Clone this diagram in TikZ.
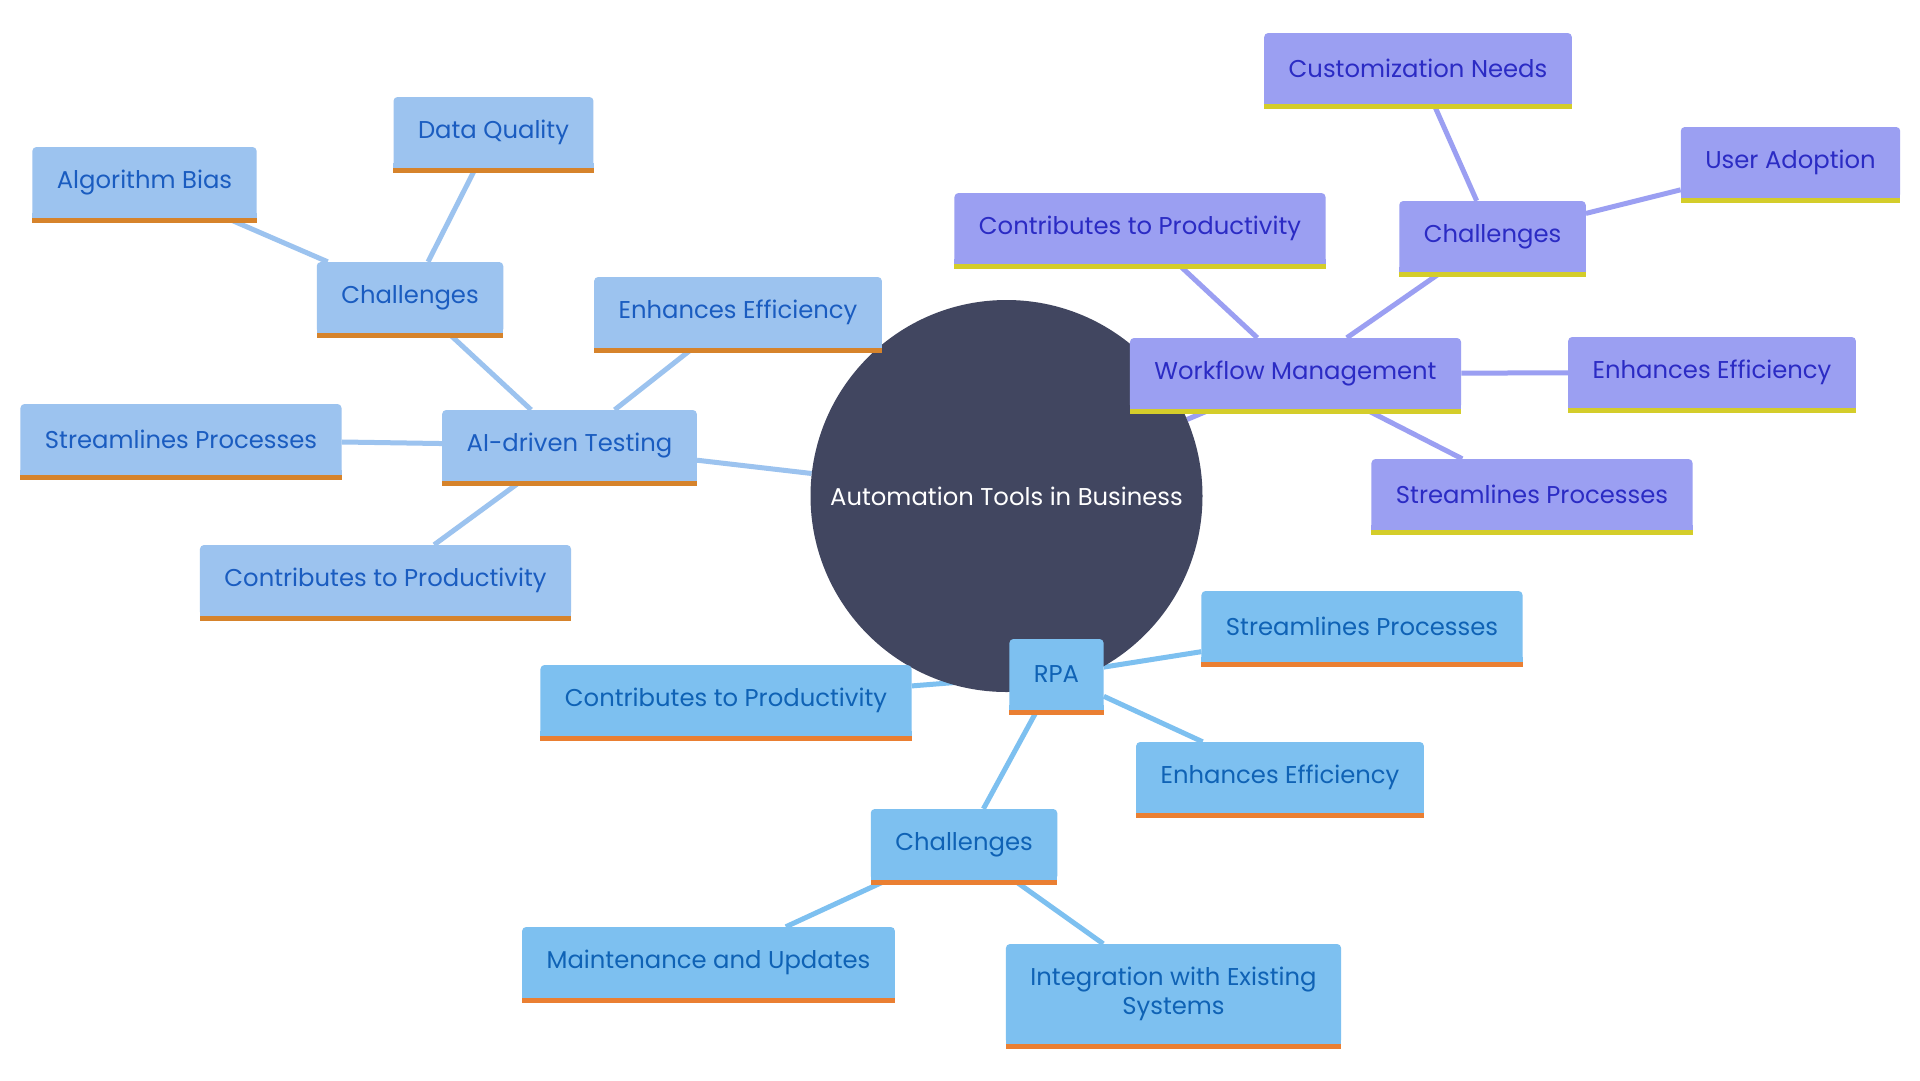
\documentclass[tikz,border=0pt]{standalone}
\usepackage{fontspec}
\setmainfont{Poppins}
\usetikzlibrary{backgrounds,positioning}
\definecolor{rootfill}{HTML}{414660}
\definecolor{aifill}{HTML}{9CC3EF}
\definecolor{aitext}{HTML}{1A5CC0}
\definecolor{aibar}{HTML}{D6832B}
\definecolor{wffill}{HTML}{9B9FF2}
\definecolor{wftext}{HTML}{2B2BC4}
\definecolor{wfbar}{HTML}{D4CD2A}
\definecolor{rpafill}{HTML}{7DC0F0}
\definecolor{rpatext}{HTML}{0F62B5}
\definecolor{rpabar}{HTML}{EA7F32}
\tikzset{box/.style={rectangle,rounded corners=4pt,inner xsep=24.5pt,inner ysep=0pt,
    minimum height=71pt,font=\fontsize{24.3}{29}\selectfont}}
\tikzset{aibox/.style={box,fill=aifill,text=aitext},
    wfbox/.style={box,fill=wffill,text=wftext},
    rpabox/.style={box,fill=rpafill,text=rpatext},
    link/.style={line width=5pt}}

\begin{document}
\begin{tikzpicture}[x=1pt,y=-1pt]
    \useasboundingbox (0,0) rectangle (1920,1080);
    \node[circle,fill=rootfill,text=white,minimum size=392pt,inner sep=0pt,
        font=\fontsize{24.3}{29}\selectfont] (root) at (1006.5,496) {Automation Tools in Business};
    % AI-driven Testing
    \node[aibox] (ai)   at (569.5,445.5) {AI-driven Testing};
    \node[aibox] (aich) at (410,297.5)   {Challenges};
    \node[aibox] (dq)   at (493.5,132.5) {Data Quality};
    \node[aibox] (ab)   at (144.5,182.5) {Algorithm Bias};
    \node[aibox] (aiee) at (738,312.5)   {Enhances Efficiency};
    \node[aibox] (aisp) at (181,439.5)   {Streamlines Processes};
    \node[aibox] (aicp) at (385.5,580.5) {Contributes to Productivity};
    % Workflow Management
    \node[wfbox] (wf)   at (1295.5,373.5) {Workflow Management};
    \node[wfbox] (wfcp) at (1140,228.5)   {Contributes to Productivity};
    \node[wfbox] (wfch) at (1492.5,236.5) {Challenges};
    \node[wfbox] (cn)   at (1418,68.5)    {Customization Needs};
    \node[wfbox] (ua)   at (1790.5,162.5) {User Adoption};
    \node[wfbox] (wfee) at (1712,372.5)   {Enhances Efficiency};
    \node[wfbox] (wfsp) at (1532,494.5)   {Streamlines Processes};
    % RPA
    \node[rpabox] (rpa)   at (1056.5,674.5) {RPA};
    \node[rpabox] (rpasp) at (1362,626.5)   {Streamlines Processes};
    \node[rpabox] (rpacp) at (726,700.5)    {Contributes to Productivity};
    \node[rpabox] (rpaee) at (1280,777.5)   {Enhances Efficiency};
    \node[rpabox] (rpach) at (964,844.5)    {Challenges};
    \node[rpabox] (mu)    at (708.5,962.5)  {Maintenance and Updates};
    \node[rpabox,align=center,minimum height=100pt] (ie) at (1173.5,994)
        {Integration with Existing\\Systems};
    % bars under the boxes
    \foreach \n in {ai,aich,dq,ab,aiee,aisp,aicp}{
        \fill[aifill] ([yshift=5pt]\n.south west) rectangle (\n.south east);
        \fill[aibar] (\n.south west) rectangle ([yshift=-5pt]\n.south east);
    }
    \foreach \n in {wf,wfcp,wfch,cn,ua,wfee,wfsp}{
        \fill[wffill] ([yshift=5pt]\n.south west) rectangle (\n.south east);
        \fill[wfbar] (\n.south west) rectangle ([yshift=-5pt]\n.south east);
    }
    \foreach \n in {rpa,rpasp,rpacp,rpaee,rpach,mu,ie}{
        \fill[rpafill] ([yshift=5pt]\n.south west) rectangle (\n.south east);
        \fill[rpabar] (\n.south west) rectangle ([yshift=-5pt]\n.south east);
    }
    \begin{scope}[on background layer]
        \fill[white] (0,0) rectangle (1920,1080);
        \path[link,draw=aifill]
            (ai) edge (root)
            (aich) edge (ai)
            (dq) edge (aich)
            (ab) edge (aich)
            (aiee) edge (ai)
            (aisp) edge (ai)
            (aicp) edge (ai);
        \path[link,draw=wffill]
            (wf) edge (root)
            (wfcp) edge (wf)
            (wfch) edge (wf)
            (cn) edge (wfch)
            (ua) edge (wfch)
            (wfee) edge (wf)
            (wfsp) edge (wf);
        \path[link,draw=rpafill]
            (rpa) edge (root)
            (rpasp) edge (rpa)
            (rpacp) edge (rpa)
            (rpaee) edge (rpa)
            (rpach) edge (rpa)
            (mu) edge (rpach)
            (ie) edge (rpach);
    \end{scope}
\end{tikzpicture}
\end{document}
